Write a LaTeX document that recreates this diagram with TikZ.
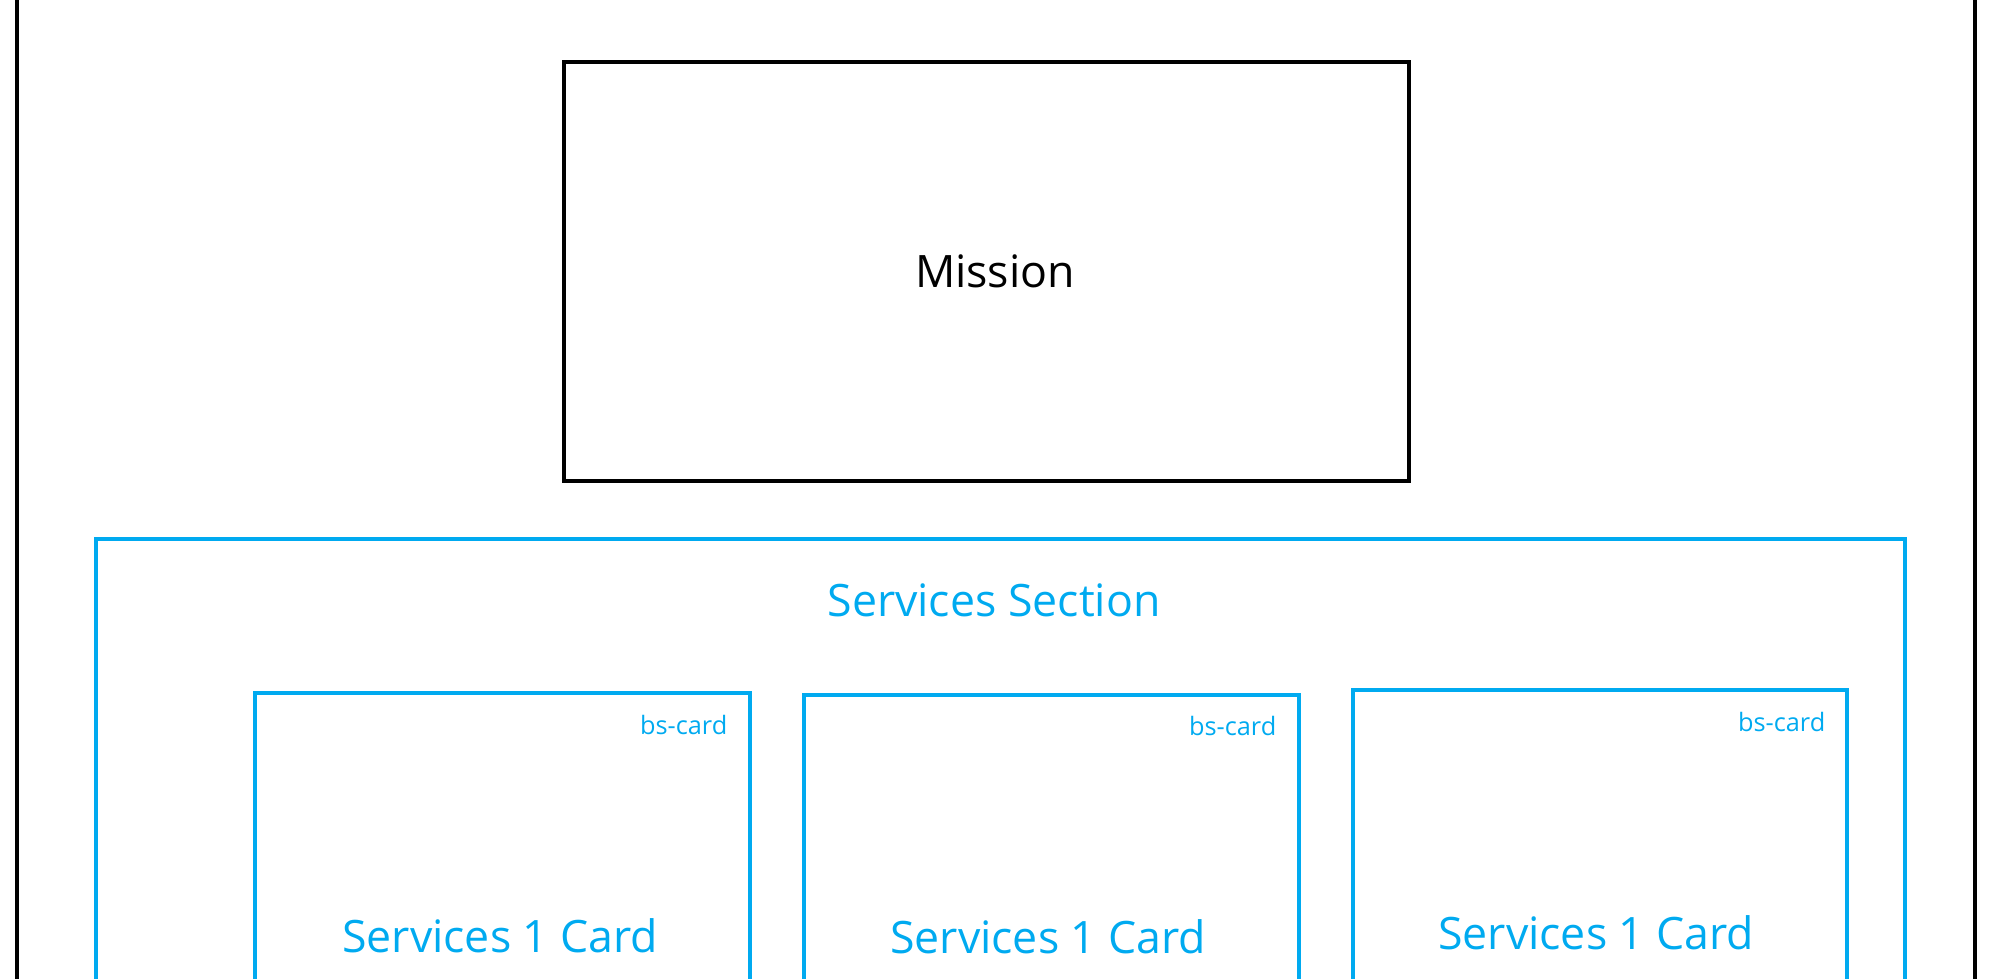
\documentclass[tikz,border=0pt]{standalone}
\usepackage{fontspec}
\setmainfont{Open Sans}
\usepackage{tikz}
\definecolor{svcblue}{RGB}{0,170,240}

\begin{document}
\begin{tikzpicture}
[x=0.01cm,y=-0.01cm
,frame/.style={draw,line width=1.2pt}
,sbox/.style={draw=svcblue,line width=1.2pt}
,lbl/.style={font=\fontsize{12.7}{15}\selectfont,anchor=base,inner sep=0pt}
,slbl/.style={lbl,text=svcblue}
,tag/.style={font=\fontsize{7.2}{9}\selectfont,text=svcblue,anchor=base east,inner sep=0pt}]
\useasboundingbox (0,0) rectangle (1990,978);
\clip (0,0) rectangle (1990,978);
% page frame, runs past the edges
\draw[frame] (17,-20) rectangle (1975,1020);
% mission block
\draw[frame] (564,62) rectangle (1409,481);
\node[lbl] (mission) at (995,287) {Mission};
% services section with its cards
\draw[sbox] (96,539) rectangle (1905,1020);
\node[slbl] (sect) at (994,616) {Services Section};
\draw[sbox] (255,693) rectangle (750,1020);
\node[tag] (tag1) at (728,734) {bs-card};
\node[slbl] (card1) at (500,952) {Services 1 Card};
\draw[sbox] (804,695) rectangle (1299,1020);
\node[tag] (tag2) at (1277,735) {bs-card};
\node[slbl] (card2) at (1048,953) {Services 1 Card};
\draw[sbox] (1353,690) rectangle (1847,1020);
\node[tag] (tag3) at (1826,731) {bs-card};
\node[slbl] (card3) at (1596,949) {Services 1 Card};
\end{tikzpicture}
\end{document}
